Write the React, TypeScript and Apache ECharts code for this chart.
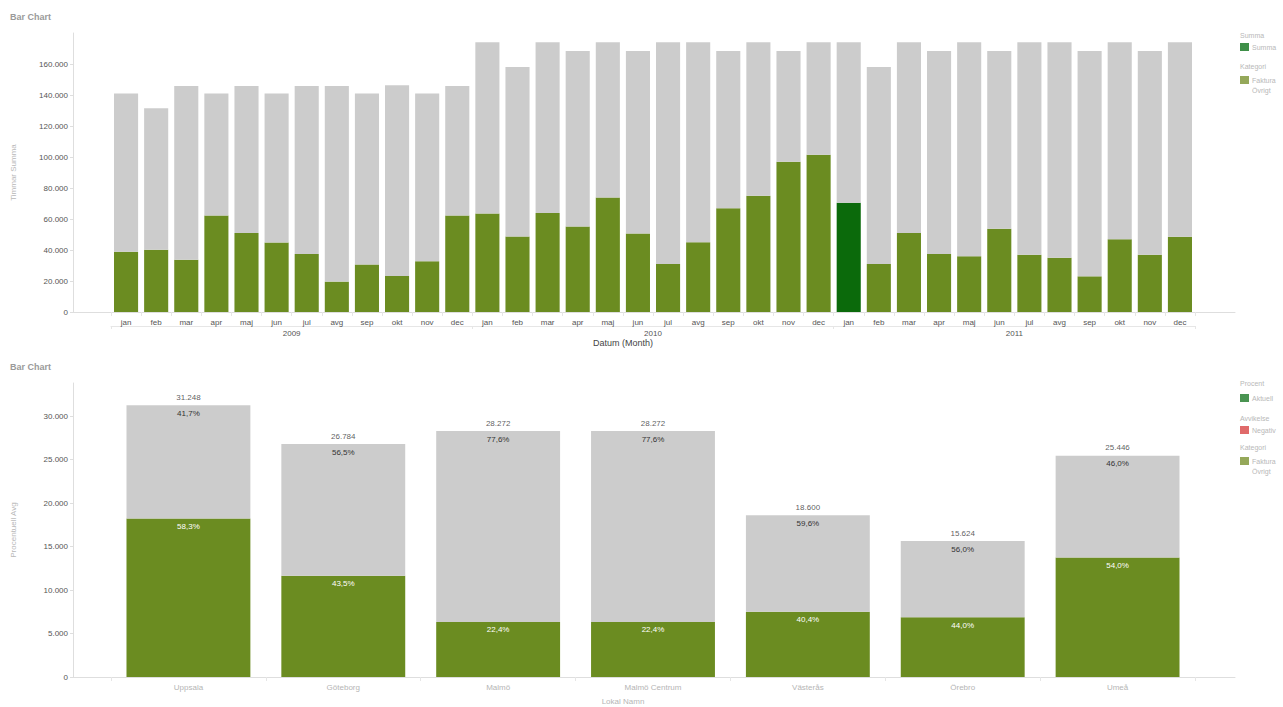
import React, { useEffect, useRef } from 'react';
import * as echarts from 'echarts';

const months = ['jan', 'feb', 'mar', 'apr', 'maj', 'jun', 'jul', 'avg', 'sep', 'okt', 'nov', 'dec'];
const years = ['2009', '2010', '2011'];

const topTotals = [
  141000, 131500, 145800, 141000, 145800, 141000, 145800, 145800, 141000, 146300, 141000, 145800,
  174000, 158000, 174000, 168400, 174000, 168400, 174000, 174000, 168400, 174000, 168400, 174000,
  174000, 158000, 174000, 168400, 174000, 168400, 174000, 174000, 168400, 174000, 168400, 174000,
];
const topGreen = [
  38800, 40100, 33700, 62300, 50900, 44900, 37500, 19600, 30600, 23300, 32800, 62300,
  63600, 48700, 63900, 55200, 73800, 50700, 31000, 45000, 67000, 75000, 97000, 101500,
  70500, 31000, 51000, 37500, 36000, 53700, 37000, 35000, 23000, 47000, 37000, 48500,
];
const highlightIndex = 24;

const bottomCategories = ['Uppsala', 'Göteborg', 'Malmö', 'Malmö Centrum', 'Västerås', 'Örebro', 'Umeå'];
const bottomTotals = [31248, 26784, 28272, 28272, 18600, 15624, 25446];
const bottomGreen = [18218, 11651, 6333, 6333, 7514, 6875, 13741];

const OLIVE = '#6b8c21';
const GRAY = '#cccccc';
const DARK = '#0b6a0b';
const FONT = 'Liberation Sans, Arial, sans-serif';

const fmtNum = (v: number) => String(Math.round(v)).replace(/\B(?=(\d{3})+(?!\d))/g, '.');
const fmtPct = (v: number, t: number) => (v / t * 100).toFixed(1).replace('.', ',') + '%';

export default function App() {
  const ref = useRef<HTMLDivElement>(null);
  useEffect(() => {
    document.body.style.margin = '0';
    document.body.style.overflow = 'hidden';
    const chart = echarts.init(ref.current!, undefined, { renderer: 'svg' });
    const monthCats = years.flatMap((y) => months.map((m) => `${m}|${y}`));
    const topGray = topTotals.map((t, i) => t - topGreen[i]);
    const bottomGray = bottomTotals.map((t, i) => t - bottomGreen[i]);
    const axisCol = '#dedede';
    const tickLabel = { fontSize: 8, color: '#555', fontFamily: FONT };
    const blurText = (text: string, x: number, y: number, extra: any = {}) => ({
      type: 'text', x, y,
      style: { text, fill: '#b8b8b8', fontSize: 7, fontFamily: FONT, verticalAlign: 'middle', ...extra },
    });
    const option: any = {
      animation: false,
      textStyle: { fontFamily: FONT },
      grid: [
        { left: 73, right: 48, top: 33, height: 279 },
        { left: 111, right: 88, top: 33, height: 279 },
        { left: 73, right: 48, top: 383, height: 294 },
        { left: 111, right: 88, top: 383, height: 294 },
      ],
      xAxis: [
        { gridIndex: 0, type: 'category', data: [''], axisLine: { lineStyle: { color: axisCol } }, axisTick: { show: false }, axisLabel: { show: false } },
        {
          gridIndex: 1, type: 'category', data: monthCats,
          axisLine: { show: false },
          axisTick: { show: true, length: 4, lineStyle: { color: '#e6e6e6' } },
          axisLabel: { ...tickLabel, margin: 6, formatter: (v: string) => v.split('|')[0] },
        },
        {
          gridIndex: 1, type: 'category', data: years, position: 'bottom', offset: 14,
          axisLine: { show: true, lineStyle: { color: '#e6e6e6' } },
          axisTick: { show: true, length: 3, lineStyle: { color: '#e6e6e6' } },
          axisLabel: { ...tickLabel, margin: 3 },
        },
        { gridIndex: 2, type: 'category', data: [''], axisLine: { lineStyle: { color: axisCol } }, axisTick: { show: false }, axisLabel: { show: false } },
        {
          gridIndex: 3, type: 'category', data: bottomCategories,
          axisLine: { show: false },
          axisTick: { show: true, length: 4, lineStyle: { color: '#e6e6e6' } },
          axisLabel: { fontSize: 8, color: '#b5b5b5', fontFamily: FONT, margin: 6 },
        },
      ],
      yAxis: [
        {
          gridIndex: 0, type: 'value', min: 0, max: 180000, interval: 20000,
          axisLine: { show: true, lineStyle: { color: axisCol } },
          axisTick: { show: true, length: 3, lineStyle: { color: axisCol } },
          splitLine: { show: false },
          axisLabel: { ...tickLabel, margin: 5, showMaxLabel: false, formatter: (v: number) => fmtNum(v) },
          name: 'Timmar Summa', nameLocation: 'middle', nameGap: 56,
          nameTextStyle: { color: '#b8b8b8', fontSize: 8, fontFamily: FONT },
        },
        { gridIndex: 1, type: 'value', min: 0, max: 180000, show: false, splitLine: { show: false } },
        {
          gridIndex: 2, type: 'value', min: 0, max: 33800, interval: 5000,
          axisLine: { show: true, lineStyle: { color: axisCol } },
          axisTick: { show: true, length: 3, lineStyle: { color: axisCol } },
          splitLine: { show: false },
          axisLabel: { ...tickLabel, margin: 5, showMaxLabel: false, formatter: (v: number) => fmtNum(v) },
          name: 'Procentuell Avg', nameLocation: 'middle', nameGap: 56,
          nameTextStyle: { color: '#b8b8b8', fontSize: 8, fontFamily: FONT },
        },
        { gridIndex: 3, type: 'value', min: 0, max: 33800, show: false, splitLine: { show: false } },
      ],
      series: [
        {
          type: 'bar', name: 'Faktura', xAxisIndex: 1, yAxisIndex: 1, stack: 'top', barCategoryGap: '20%',
          itemStyle: { color: OLIVE },
          data: topGreen.map((v, i) => (i === highlightIndex ? { value: v, itemStyle: { color: DARK } } : v)),
        },
        {
          type: 'bar', name: 'Övrigt', xAxisIndex: 1, yAxisIndex: 1, stack: 'top', barCategoryGap: '20%',
          itemStyle: { color: GRAY }, data: topGray,
        },
        {
          type: 'bar', name: 'Faktura', xAxisIndex: 4, yAxisIndex: 3, stack: 'bot', barCategoryGap: '20%',
          itemStyle: { color: OLIVE }, data: bottomGreen,
          label: {
            show: true, position: 'insideTop', distance: 4, fontSize: 8, color: '#ffffff', fontFamily: FONT,
            formatter: (p: any) => fmtPct(p.value, bottomTotals[p.dataIndex]),
          },
        },
        {
          type: 'bar', name: 'Övrigt', xAxisIndex: 4, yAxisIndex: 3, stack: 'bot', barCategoryGap: '20%',
          itemStyle: { color: GRAY }, data: bottomGray,
          label: {
            show: true, position: 'insideTop', distance: 4, fontSize: 8, color: '#333333', fontFamily: FONT,
            formatter: (p: any) => fmtPct(p.value, bottomTotals[p.dataIndex]),
          },
        },
        {
          type: 'scatter', name: 'Totalt', xAxisIndex: 4, yAxisIndex: 3, symbolSize: 0,
          itemStyle: { color: 'rgba(0,0,0,0)' }, data: bottomTotals,
          label: {
            show: true, position: 'top', distance: 4, fontSize: 8, color: '#333333', fontFamily: FONT,
            formatter: (p: any) => fmtNum(p.value),
          },
        },
      ],
      graphic: [
        { type: 'text', x: 10, y: 17, style: { text: 'Bar Chart', fill: '#9a9a9a', fontSize: 9, fontWeight: 'bold', fontFamily: FONT, verticalAlign: 'middle' } },
        { type: 'text', x: 10, y: 367, style: { text: 'Bar Chart', fill: '#9a9a9a', fontSize: 9, fontWeight: 'bold', fontFamily: FONT, verticalAlign: 'middle' } },
        { type: 'text', x: 623, y: 343, style: { text: 'Datum (Month)', fill: '#444', fontSize: 9, fontFamily: FONT, align: 'center', verticalAlign: 'middle' } },
        { type: 'text', x: 623, y: 701, style: { text: 'Lokal Namn', fill: '#b5b5b5', fontSize: 8, fontFamily: FONT, align: 'center', verticalAlign: 'middle' } },
        // top legend
        blurText('Summa', 1240, 35),
        { type: 'rect', shape: { x: 1240, y: 43, width: 9, height: 8 }, style: { fill: '#3f8f48' } },
        blurText('Summa', 1252, 47),
        blurText('Kategori', 1240, 66),
        { type: 'rect', shape: { x: 1240, y: 76, width: 9, height: 8 }, style: { fill: '#95a85a' } },
        blurText('Faktura', 1252, 80),
        blurText('Övrigt', 1252, 90),
        // bottom legend
        blurText('Procent', 1240, 383),
        { type: 'rect', shape: { x: 1240, y: 394, width: 9, height: 8 }, style: { fill: '#4a9452' } },
        blurText('Aktuell', 1252, 398),
        blurText('Avvikelse', 1240, 418),
        { type: 'rect', shape: { x: 1240, y: 426, width: 9, height: 8 }, style: { fill: '#e06a6a' } },
        blurText('Negativ', 1252, 430),
        blurText('Kategori', 1240, 447),
        { type: 'rect', shape: { x: 1240, y: 457, width: 9, height: 8 }, style: { fill: '#95a85a' } },
        blurText('Faktura', 1252, 461),
        blurText('Övrigt', 1252, 471),
      ],
    };
    chart.setOption(option);
    return () => chart.dispose();
  }, []);
  return <div ref={ref} style={{ width: 1283, height: 707 }} />;
}
